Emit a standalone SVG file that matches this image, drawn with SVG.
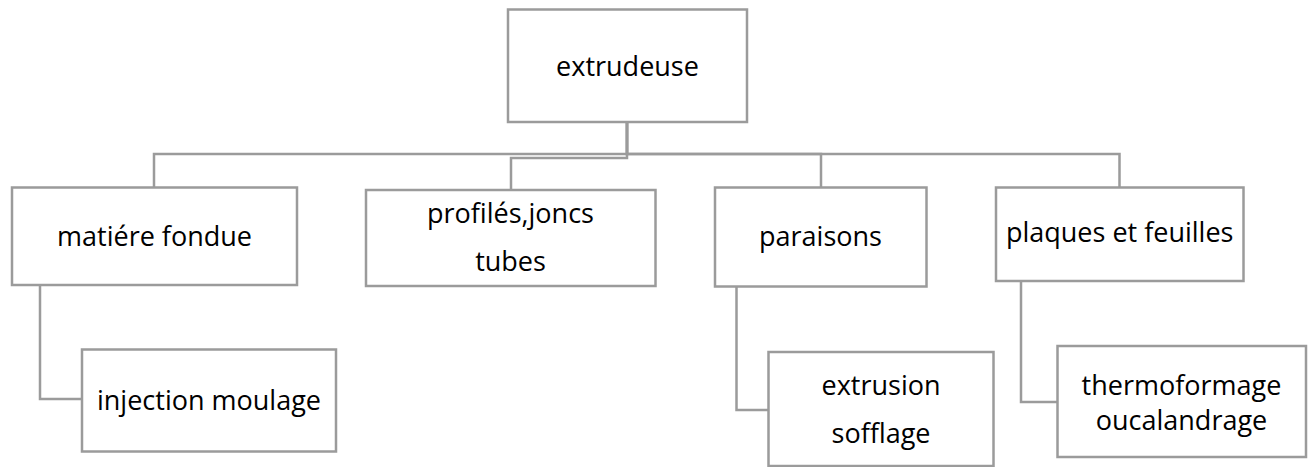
<svg xmlns="http://www.w3.org/2000/svg" width="1312" height="467" viewBox="0 0 1312 467">
<style>
.box{fill:#fff;stroke:#9b9b9b;stroke-width:2.5}
.conn{fill:none;stroke:#9b9b9b;stroke-width:2.5}
text{font-family:"Open Sans","Noto Sans","Liberation Sans",sans-serif;font-size:27px;fill:#000;text-anchor:middle}
</style>
<rect width="1312" height="467" fill="#fff"/>
<g id="connectors">
<path class="conn" d="M627,122 V154 H154 V187"/>
<path class="conn" d="M627,122 V158 H511 V190"/>
<path class="conn" d="M627,122 V154 H821 V187"/>
<path class="conn" d="M627,122 V154 H1119.5 V187"/>
<path class="conn" d="M40,285 V399 H82"/>
<path class="conn" d="M736.5,287 V410 H768"/>
<path class="conn" d="M1021,281 V402 H1058"/>
</g>
<g id="extrudeuse">
<rect class="box" x="508" y="9.5" width="239" height="112.5"/>
<text x="627.5" y="75.5">extrudeuse</text>
</g>
<g id="matiere">
<rect class="box" x="12" y="187.5" width="285" height="97.5"/>
<text x="154.5" y="246">matiére fondue</text>
</g>
<g id="profiles">
<rect class="box" x="366" y="190" width="289.5" height="96"/>
<text x="510.5" y="223">profilés,joncs</text>
<text x="510.5" y="271">tubes</text>
</g>
<g id="paraisons">
<rect class="box" x="715" y="187.5" width="211.5" height="99"/>
<text x="820.5" y="246">paraisons</text>
</g>
<g id="plaques">
<rect class="box" x="996" y="187.5" width="247.5" height="93.5"/>
<text x="1119.7" y="242">plaques et feuilles</text>
</g>
<g id="injection">
<rect class="box" x="82" y="349.5" width="254" height="102"/>
<text x="209" y="410">injection moulage</text>
</g>
<g id="extrusion">
<rect class="box" x="768.5" y="352" width="225" height="114"/>
<text x="881" y="395">extrusion</text>
<text x="881" y="443">sofflage</text>
</g>
<g id="thermo">
<rect class="box" x="1057.5" y="346" width="248.5" height="111"/>
<text x="1181.5" y="395">thermoformage</text>
<text x="1181.5" y="430">oucalandrage</text>
</g>
</svg>
